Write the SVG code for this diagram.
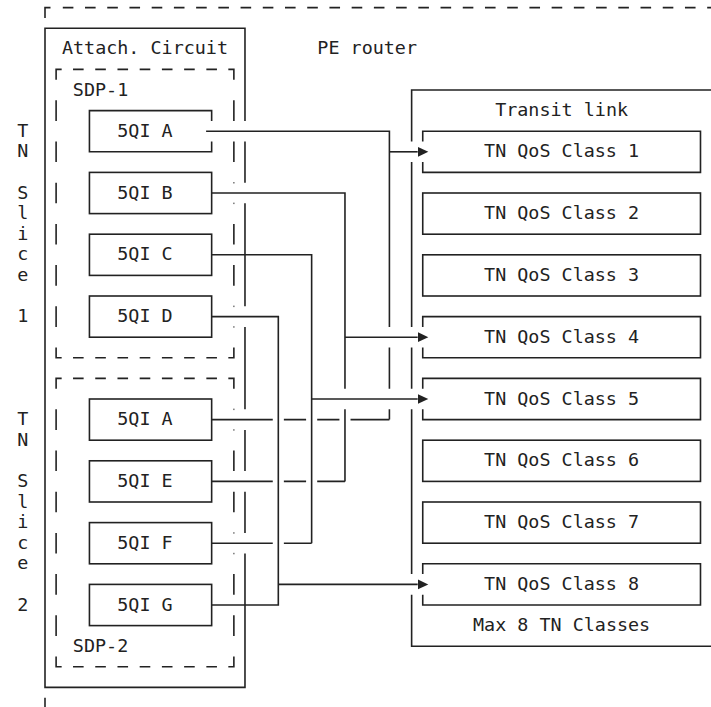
<svg xmlns="http://www.w3.org/2000/svg" width="711" height="707" viewBox="0 0 711 707">
  <style>
    .ln { fill: none; stroke: #222; stroke-width: 1.6; }
    .dh { fill: none; stroke: #222; stroke-width: 1.6; stroke-dasharray: 10.6 11.62; }
    .dv { fill: none; stroke: #222; stroke-width: 1.6; stroke-dasharray: 20.6 20.6; }
    .dot { fill: #777; }
    text { font-family: "DejaVu Sans Mono", "Liberation Mono", monospace; font-size: 18.4px; fill: #222; text-anchor: middle; }
  </style>
  <defs>
    <marker id="arrow" markerUnits="userSpaceOnUse" markerWidth="12" markerHeight="12" viewBox="0 -6 12 12" refX="0" refY="0" orient="auto">
      <path d="M0,-5 L10.6,0 L0,5 z" fill="#222"/>
    </marker>
  </defs>
  <rect width="711" height="707" fill="#fff"/>

  <!-- PE router (dashed outer box) -->
  <g id="pe-router">
    <path class="ln" d="M45,17.9 V7.6 H50.5"/>
    <line class="dh" x1="62.8" y1="7.6" x2="711" y2="7.6"/>
    <path class="ln" d="M45,697.7 V707"/>
    <text x="367.19" y="54.3">PE router</text>
  </g>

  <!-- Attachment circuit box -->
  <g id="attach-circuit">
    <path class="ln" d="M244.98,120.9 V28.2 H45 V687.4 H244.98 V553.5 M244.98,532.9 V491.7 M244.98,471.1 V429.9 M244.98,409.3 V326.9 M244.98,306.3 V203.3 M244.98,182.7 V141.5"/>
    <text x="144.99" y="54.3">Attach. Circuit</text>
  </g>

  <!-- SDP-1 (dashed) -->
  <g id="sdp-1">
    <path class="ln" d="M61.67,69.4 H56.11 V79.7 M228.32,69.4 H233.87 V79.7 M56.11,347.5 V357.8 H61.67 M228.32,357.8 H233.87 V347.5"/>
    <line class="dh" x1="73.03" y1="69.4" x2="216.95" y2="69.4"/>
    <line class="dh" x1="73.03" y1="357.8" x2="216.95" y2="357.8"/>
    <line class="dv" x1="56.11" y1="100.3" x2="56.11" y2="326.9"/>
    <path class="ln" d="M233.87,100.3 V120.9 M233.87,141.5 V162.1 M233.87,223.9 V244.5 M233.87,265.1 V285.7"/>
    <rect class="dot" x="233.1" y="182" width="1.5" height="1.5"/>
    <rect class="dot" x="233.1" y="202.6" width="1.5" height="1.5"/>
    <rect class="dot" x="233.1" y="305.6" width="1.5" height="1.5"/>
    <rect class="dot" x="233.1" y="326.2" width="1.5" height="1.5"/>
    <text x="100.55" y="95.5">SDP-1</text>
  </g>

  <!-- SDP-2 (dashed) -->
  <g id="sdp-2">
    <path class="ln" d="M61.67,378.4 H56.11 V388.7 M228.32,378.4 H233.87 V388.7 M56.11,656.5 V666.8 H61.67 M228.32,666.8 H233.87 V656.5"/>
    <line class="dh" x1="73.03" y1="378.4" x2="216.95" y2="378.4"/>
    <line class="dh" x1="73.03" y1="666.8" x2="216.95" y2="666.8"/>
    <line class="dv" x1="56.11" y1="409.3" x2="56.11" y2="635.9"/>
    <path class="ln" d="M233.87,450.5 V471.1 M233.87,491.7 V512.3 M233.87,574.1 V594.7 M233.87,615.3 V635.9"/>
    <rect class="dot" x="233.1" y="408.6" width="1.5" height="1.5"/>
    <rect class="dot" x="233.1" y="429.2" width="1.5" height="1.5"/>
    <rect class="dot" x="233.1" y="532.2" width="1.5" height="1.5"/>
    <rect class="dot" x="233.1" y="552.8" width="1.5" height="1.5"/>
    <text x="100.55" y="651.7">SDP-2</text>
  </g>

  <!-- TN slice labels -->
  <g id="tn-slice-1">
    <text x="22.78" y="136.7">T</text>
    <text x="22.78" y="157.3">N</text>
    <text x="22.78" y="198.5">S</text>
    <text x="22.78" y="219.1">l</text>
    <text x="22.78" y="239.7">i</text>
    <text x="22.78" y="260.3">c</text>
    <text x="22.78" y="280.9">e</text>
    <text x="22.78" y="322.1">1</text>
  </g>
  <g id="tn-slice-2">
    <text x="22.78" y="425.1">T</text>
    <text x="22.78" y="445.7">N</text>
    <text x="22.78" y="486.9">S</text>
    <text x="22.78" y="507.5">l</text>
    <text x="22.78" y="528.1">i</text>
    <text x="22.78" y="548.7">c</text>
    <text x="22.78" y="569.3">e</text>
    <text x="22.78" y="610.5">2</text>
  </g>

  <!-- 5QI flows, slice 1 -->
  <g id="s1-5qi-a">
    <path class="ln" d="M211.65,120.9 V110.6 H89.44 V151.8 H211.65 V141.5"/>
    <text x="144.99" y="136.7">5QI A</text>
  </g>
  <g id="s1-5qi-b">
    <rect class="ln" x="89.44" y="172.4" width="122.21" height="41.2"/>
    <text x="144.99" y="198.5">5QI B</text>
  </g>
  <g id="s1-5qi-c">
    <rect class="ln" x="89.44" y="234.2" width="122.21" height="41.2"/>
    <text x="144.99" y="260.3">5QI C</text>
  </g>
  <g id="s1-5qi-d">
    <rect class="ln" x="89.44" y="296" width="122.21" height="41.2"/>
    <text x="144.99" y="322.1">5QI D</text>
  </g>

  <!-- 5QI flows, slice 2 -->
  <g id="s2-5qi-a">
    <rect class="ln" x="89.44" y="399" width="122.21" height="41.2"/>
    <text x="144.99" y="425.1">5QI A</text>
  </g>
  <g id="s2-5qi-e">
    <rect class="ln" x="89.44" y="460.8" width="122.21" height="41.2"/>
    <text x="144.99" y="486.9">5QI E</text>
  </g>
  <g id="s2-5qi-f">
    <rect class="ln" x="89.44" y="522.6" width="122.21" height="41.2"/>
    <text x="144.99" y="548.7">5QI F</text>
  </g>
  <g id="s2-5qi-g">
    <rect class="ln" x="89.44" y="584.4" width="122.21" height="41.2"/>
    <text x="144.99" y="610.5">5QI G</text>
  </g>

  <!-- Transit link -->
  <g id="transit-link">
    <path class="ln" d="M711,90 H411.63 V141.5 M411.63,162.1 V326.9 M411.63,347.5 V388.7 M411.63,409.3 V574.1 M411.63,594.7 V646.2 H711"/>
    <text x="561.6" y="116.1">Transit link</text>
    <text x="561.6" y="631.1">Max 8 TN Classes</text>
  </g>

  <!-- TN QoS classes -->
  <g id="qos-1">
    <path class="ln" d="M422.74,141.5 V131.2 H700.49 V172.4 H422.74 V162.1"/>
    <text x="561.6" y="157.3">TN QoS Class 1</text>
  </g>
  <g id="qos-2">
    <rect class="ln" x="422.74" y="193" width="277.75" height="41.2"/>
    <text x="561.6" y="219.1">TN QoS Class 2</text>
  </g>
  <g id="qos-3">
    <rect class="ln" x="422.74" y="254.8" width="277.75" height="41.2"/>
    <text x="561.6" y="280.9">TN QoS Class 3</text>
  </g>
  <g id="qos-4">
    <path class="ln" d="M422.74,326.9 V316.6 H700.49 V357.8 H422.74 V347.5"/>
    <text x="561.6" y="342.7">TN QoS Class 4</text>
  </g>
  <g id="qos-5">
    <path class="ln" d="M422.74,388.7 V378.4 H700.49 V419.6 H422.74 V409.3"/>
    <text x="561.6" y="404.5">TN QoS Class 5</text>
  </g>
  <g id="qos-6">
    <rect class="ln" x="422.74" y="440.2" width="277.75" height="41.2"/>
    <text x="561.6" y="466.3">TN QoS Class 6</text>
  </g>
  <g id="qos-7">
    <rect class="ln" x="422.74" y="502" width="277.75" height="41.2"/>
    <text x="561.6" y="528.1">TN QoS Class 7</text>
  </g>
  <g id="qos-8">
    <path class="ln" d="M422.74,574.1 V563.8 H700.49 V605 H422.74 V594.7"/>
    <text x="561.6" y="589.9">TN QoS Class 8</text>
  </g>

  <!-- Connectors: 5QI to TN QoS class mapping -->
  <g id="connectors">
    <!-- 5QI A (both slices) to class 1 -->
    <path class="ln" d="M206.1,131.2 H389.41 V326.9 M389.41,347.5 V388.7 M389.41,409.3 V419.6"/>
    <path class="ln" d="M211.65,419.6 H272.76 M283.87,419.6 H306.09 M317.2,419.6 H339.42 M350.53,419.6 H389.41"/>
    <path class="ln" d="M389.41,151.8 H417.7" marker-end="url(#arrow)"/>
    <!-- 5QI B / 5QI E to class 4 -->
    <path class="ln" d="M211.65,193 H344.97 V388.7 M344.97,409.3 V481.4"/>
    <path class="ln" d="M211.65,481.4 H272.76 M283.87,481.4 H306.09 M317.2,481.4 H344.97"/>
    <path class="ln" d="M344.97,337.2 H417.7" marker-end="url(#arrow)"/>
    <!-- 5QI C / 5QI F to class 5 -->
    <path class="ln" d="M211.65,254.8 H311.64 V543.2"/>
    <path class="ln" d="M211.65,543.2 H272.76 M283.87,543.2 H311.64"/>
    <path class="ln" d="M311.64,399 H417.7" marker-end="url(#arrow)"/>
    <!-- 5QI D / 5QI G to class 8 -->
    <path class="ln" d="M211.65,316.6 H278.31 V605 H211.65"/>
    <path class="ln" d="M278.31,584.4 H417.7" marker-end="url(#arrow)"/>
  </g>
</svg>
